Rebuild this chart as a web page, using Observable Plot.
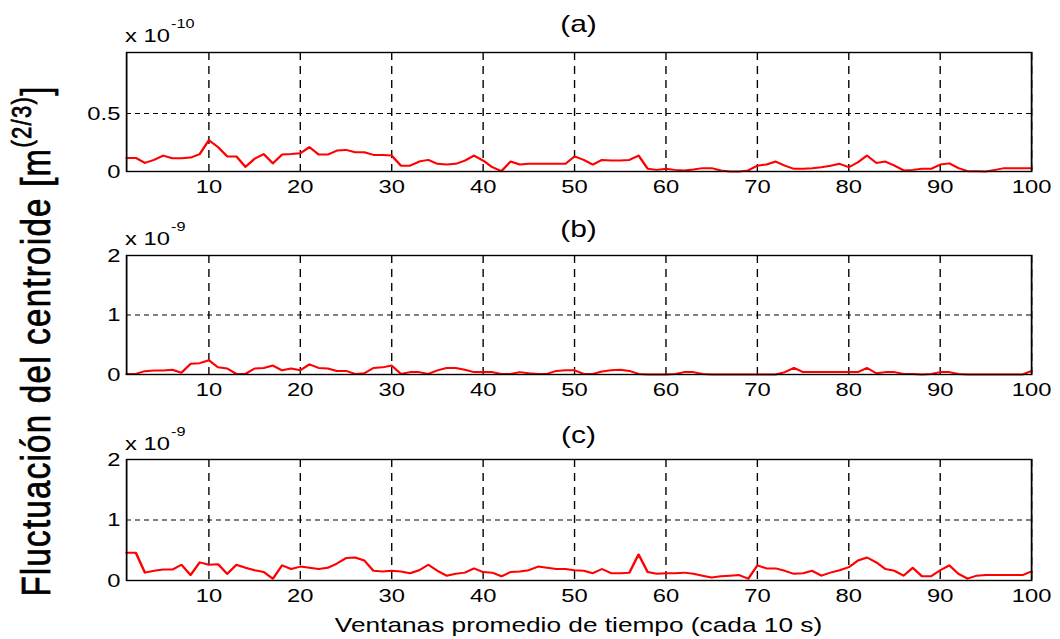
<!DOCTYPE html>
<html><head><meta charset="utf-8">
<script src="https://cdn.jsdelivr.net/npm/d3@7"></script>
<script src="https://cdn.jsdelivr.net/npm/@observablehq/plot@0.6"></script>
<style>
body{margin:0;background:#fff;}
#wrap{position:relative;width:848px;height:639px;transform:scaleX(1.25);transform-origin:0 0;font-family:"Liberation Sans",Arial,sans-serif;}
#wrap svg{position:absolute;left:0;overflow:visible;}
</style></head><body><div id="wrap"></div>
<script>
// Series values (panel a in units of 1e-10, panels b and c in units of 1e-9), windows 1..100
const seriesA = [
  0.117,0.117,0.074,0.1,0.137,0.114,0.114,0.12,0.15,0.27,
  0.21,0.13,0.13,0.04,0.11,0.15,0.07,0.146,0.15,0.157,
  0.21,0.146,0.146,0.18,0.186,0.166,0.166,0.143,0.143,0.137,
  0.05,0.05,0.086,0.1,0.066,0.06,0.066,0.094,0.137,0.094,
  0.037,0.003,0.086,0.06,0.066,0.066,0.066,0.066,0.066,0.13,
  0.1,0.06,0.1,0.094,0.094,0.1,0.137,0.023,0.014,0.023,
  0.014,0.009,0.017,0.029,0.029,0.009,0,0,0.009,0.05,
  0.06,0.086,0.05,0.023,0.023,0.029,0.037,0.05,0.066,0.037,
  0.08,0.137,0.074,0.086,0.05,0.009,0.014,0.023,0.023,0.06,
  0.07,0.029,0.003,0.003,0,0.014,0.029,0.029,0.029,0.029
];
const seriesB = [
  0.01,0.01,0.056,0.068,0.068,0.08,0.03,0.18,0.19,0.24,
  0.12,0.1,0.01,0.01,0.1,0.11,0.15,0.07,0.1,0.07,
  0.17,0.11,0.1,0.06,0.06,0.01,0.02,0.11,0.12,0.15,
  0.01,0.04,0.04,0.01,0.07,0.11,0.11,0.08,0.04,0.04,
  0.04,0.01,0.01,0.04,0.02,0.01,0.01,0.06,0.07,0.07,
  0.01,0.01,0.05,0.07,0.08,0.06,0.01,0,0,0,
  0.01,0.04,0.04,0.01,0,0,0,0,0,0,
  0,0,0.04,0.11,0.04,0.04,0.04,0.04,0.04,0.04,
  0.04,0.11,0.02,0.04,0.04,0.01,0.01,0,0.01,0.04,
  0.04,0.01,0,0,0,0,0,0,0,0.06
];
const seriesC = [
  0.46,0.46,0.13,0.16,0.18,0.18,0.26,0.09,0.3,0.26,
  0.27,0.11,0.26,0.21,0.17,0.14,0.03,0.25,0.19,0.23,
  0.21,0.19,0.21,0.28,0.37,0.38,0.33,0.16,0.15,0.16,
  0.15,0.12,0.17,0.26,0.16,0.08,0.11,0.13,0.2,0.14,
  0.13,0.07,0.14,0.15,0.17,0.23,0.21,0.19,0.19,0.17,
  0.16,0.12,0.19,0.12,0.12,0.13,0.43,0.14,0.11,0.12,
  0.12,0.13,0.11,0.08,0.05,0.07,0.08,0.09,0.03,0.25,
  0.2,0.2,0.16,0.11,0.12,0.16,0.08,0.13,0.17,0.22,
  0.33,0.38,0.3,0.19,0.16,0.08,0.21,0.07,0.07,0.17,
  0.25,0.11,0.03,0.08,0.09,0.09,0.09,0.09,0.09,0.15
];
const xTicks = [10,20,30,40,50,60,70,80,90,100];
const yTicksA = [0,0.5];
const yTicksBC = [0,1,2];
const titles = ["(a)","(b)","(c)"];
const exponents = ["-10","-9","-9"];
const xLabel = "Ventanas promedio de tiempo (cada 10 s)";
const yLabelMain = "Fluctuación del centroide [m";
const yLabelSup = "(2/3)";
const yLabelEnd = "]";

const FONT = '"Liberation Sans", Arial, sans-serif';
const wrap = document.getElementById("wrap");
const W = 848, ML = 100.8, MR = 23.2, MT = 12, MB = 40;

function panel(values, yDomain, yTicks, yFmt, top, frameH){
  const data = values.map((v,i)=>({win:i+1, val:v}));
  const p = Plot.plot({
    width: W, height: MT+frameH+MB,
    marginTop: MT, marginBottom: MB, marginLeft: ML, marginRight: MR,
    style:{fontFamily: FONT, fontSize:"19px", color:"black", background:"transparent"},
    x:{domain:[1,100]},
    y:{domain:yDomain},
    marks:[
      Plot.gridX(xTicks,{stroke:"black", strokeOpacity:1, strokeWidth:1.1, strokeDasharray:"8,6"}),
      Plot.gridY(yTicks,{stroke:"black", strokeOpacity:1, strokeWidth:1.1, strokeDasharray:"4,3.2"}),
      Plot.line(data,{x:"win", y:"val", stroke:"#ff0000", strokeWidth:2}),
      Plot.frame({stroke:"black", strokeWidth:1.4}),
      Plot.axisX(xTicks,{tickSize:0, tickPadding:8, label:null, fontSize:19}),
      Plot.axisY(yTicks,{tickSize:0, tickPadding:5, label:null, tickFormat:yFmt, fontSize:19})
    ]
  });
  p.style.top = (top - MT) + "px";
  wrap.appendChild(p);
}
panel(seriesA, [0,1.025], yTicksA, d=> d===0 ? "0" : String(d), 52, 119);
panel(seriesB, [0,2], yTicksBC, d=>String(d), 255, 119);
panel(seriesC, [0,2], yTicksBC, d=>String(d), 459, 121);

// Overlay texts
const ns = "http://www.w3.org/2000/svg";
const ov = document.createElementNS(ns,"svg");
ov.setAttribute("width", W); ov.setAttribute("height", 639);
ov.style.top = "0px"; ov.style.pointerEvents = "none";
ov.setAttribute("font-family", FONT);
wrap.appendChild(ov);
function txt(x,y,s,size,anchor){
  const t = document.createElementNS(ns,"text");
  t.setAttribute("x",x); t.setAttribute("y",y);
  t.setAttribute("font-size",size); t.setAttribute("fill","black");
  if(anchor) t.setAttribute("text-anchor",anchor);
  t.textContent = s; ov.appendChild(t); return t;
}
const cx = ML + (W-ML-MR)/2;
const titleBase = [32, 237, 443];
const expBase = [42, 245, 450];
const supBase = [28, 231, 436];
titles.forEach((s,i)=>txt(cx, titleBase[i], s, 24, "middle"));
exponents.forEach((s,i)=>{
  const t = txt(100, expBase[i], "x 10", 19);
  const w = t.getComputedTextLength();
  txt(100 + w + 1, supBase[i], s, 13);
});
txt(cx, 632, xLabel, 21, "middle");

// y label rotated
const yl = document.createElementNS(ns,"text");
yl.setAttribute("transform","translate(40,341) rotate(-90)");
yl.setAttribute("text-anchor","middle");
yl.setAttribute("font-size",33);
yl.setAttribute("letter-spacing","1.3");
yl.setAttribute("fill","black");
yl.setAttribute("stroke","black");
yl.setAttribute("stroke-width","0.6");
const t1 = document.createElementNS(ns,"tspan"); t1.textContent = yLabelMain;
const t2 = document.createElementNS(ns,"tspan"); t2.textContent = yLabelSup;
t2.setAttribute("font-size",22); t2.setAttribute("dy",-15);
const t3 = document.createElementNS(ns,"tspan"); t3.textContent = yLabelEnd;
t3.setAttribute("dy",15);
yl.appendChild(t1); yl.appendChild(t2); yl.appendChild(t3);
ov.appendChild(yl);
</script></body></html>
